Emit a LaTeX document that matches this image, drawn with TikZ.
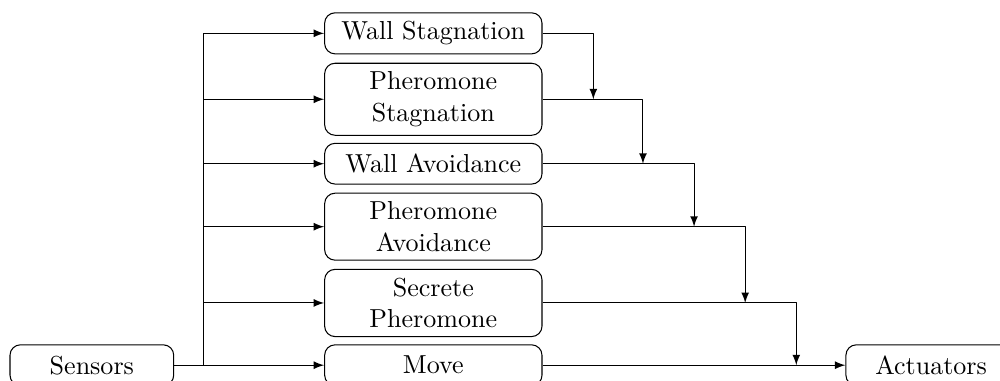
\documentclass[tikz,border=0pt]{standalone}
\begin{document}
\begin{tikzpicture}[line join=round, >=latex,
		box/.style={draw, rounded corners, align=center, text width=2.7cm, minimum height=0.55cm},
		io/.style={draw, rounded corners, minimum width=2.21cm, minimum height=0.55cm}]
			\useasboundingbox (0,0) rectangle (13.5,-5.13);
			\clip (0,0) rectangle (13.5,-5.13);
			
			\path
			(2.75,-0.45) coordinate (T)
			(2.75,-4.93) coordinate (B)
			(8.01,-1.34) coordinate (M1)
			(8.68,-2.21) coordinate (M2)
			(9.37,-3.06) coordinate (M3)
			(10.06,-4.09) coordinate (M4)
			(10.75,-4.93) coordinate (M5);
			
			\node[io] (sens) at (1.24,-4.93) {Sensors};
			\node[io, minimum width=2.3cm] (act) at (12.57,-4.93) {Actuators};
			
			\node[box] (ws) at (5.85,-0.45) {Wall Stagnation};
			\node[box] (ps) at (5.85,-1.34) {Pheromone\\Stagnation};
			\node[box] (wa) at (5.85,-2.21) {Wall Avoidance};
			\node[box] (pa) at (5.85,-3.06) {Pheromone\\Avoidance};
			\node[box] (sp) at (5.85,-4.09) {Secrete\\Pheromone};
			\node[box] (mv) at (5.85,-4.93) {Move};
			
			\draw (sens.east)--(B) (T)--(B);
			\foreach \x in {ws, ps, wa, pa, sp, mv}
			\draw[->] (T|-\x.west)--(\x.west);
			
			\foreach \x/\m in {ws/M1, ps/M2, wa/M3, pa/M4, sp/M5}
			\draw[->] (\x.east) -| (\m);
			\draw[->] (mv.east)--(act.west);
		\end{tikzpicture}
\end{document}
